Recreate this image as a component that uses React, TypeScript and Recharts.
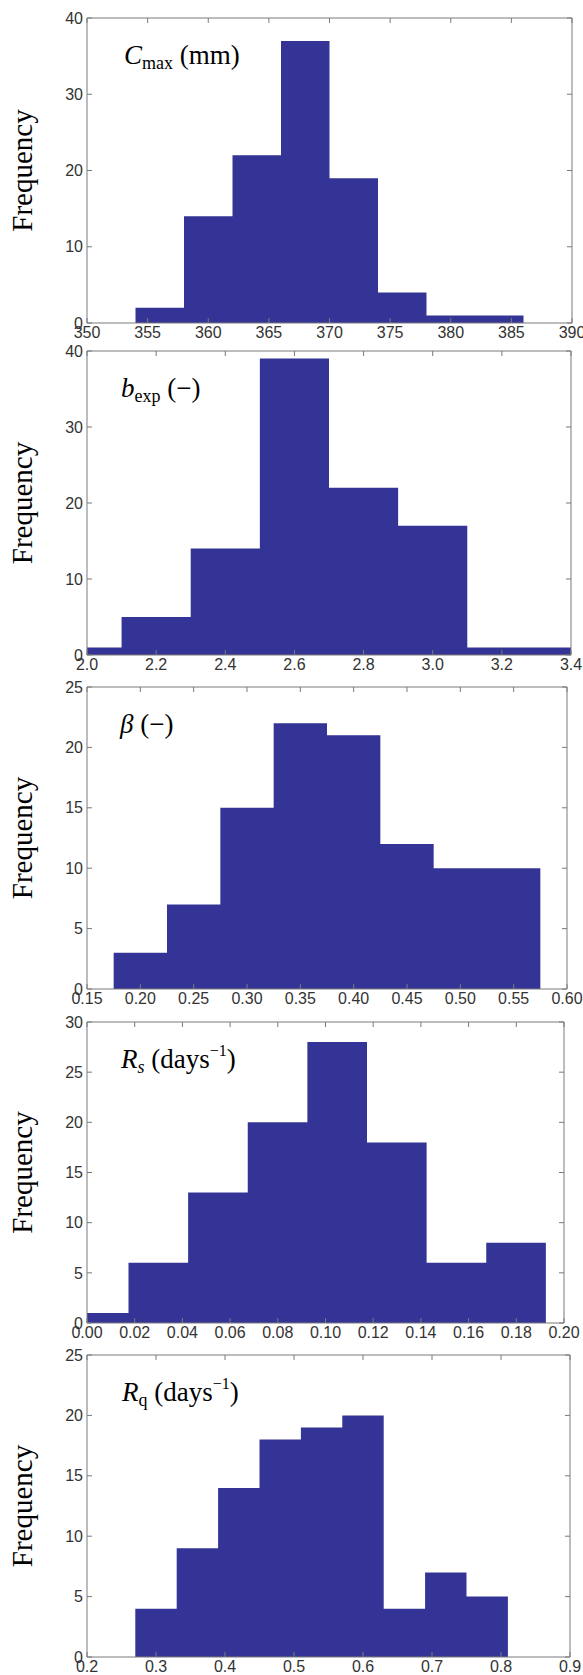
import React from "react";
import { ComposedChart, Area, XAxis, YAxis } from "recharts";

// bin edges (clipped to the axis range) and counts
const cmaxEdges = [354, 358, 362, 366, 370, 374, 378, 382, 386];
const cmaxCounts = [2, 14, 22, 37, 19, 4, 1, 1];
const cmaxTicks = [350, 355, 360, 365, 370, 375, 380, 385, 390];
const cmaxFreqTicks = [0, 10, 20, 30, 40];

const bexpEdges = [2.0, 2.1, 2.3, 2.5, 2.7, 2.9, 3.1, 3.4];
const bexpCounts = [1, 5, 14, 39, 22, 17, 1];
const bexpTicks = [2.0, 2.2, 2.4, 2.6, 2.8, 3.0, 3.2, 3.4];
const bexpFreqTicks = [0, 10, 20, 30, 40];

const betaEdges = [0.175, 0.225, 0.275, 0.325, 0.375, 0.425, 0.475, 0.525, 0.575];
const betaCounts = [3, 7, 15, 22, 21, 12, 10, 10];
const betaTicks = [0.15, 0.2, 0.25, 0.3, 0.35, 0.4, 0.45, 0.5, 0.55, 0.6];
const betaFreqTicks = [0, 5, 10, 15, 20, 25];

const rsEdges = [0, 0.0174, 0.0424, 0.0674, 0.0924, 0.1174, 0.1424, 0.1674, 0.1924];
const rsCounts = [1, 6, 13, 20, 28, 18, 6, 8];
const rsTicks = [0, 0.02, 0.04, 0.06, 0.08, 0.1, 0.12, 0.14, 0.16, 0.18, 0.2];
const rsFreqTicks = [0, 5, 10, 15, 20, 25, 30];

const rqEdges = [0.27, 0.33, 0.39, 0.45, 0.51, 0.57, 0.63, 0.69, 0.75, 0.81];
const rqCounts = [4, 9, 14, 18, 19, 20, 4, 7, 5];
const rqTicks = [0.2, 0.3, 0.4, 0.5, 0.6, 0.7, 0.8, 0.9];
const rqFreqTicks = [0, 5, 10, 15, 20, 25];

const W = 583;
const H = 1675;
const PLOT_LEFT = 87;
const FILL = "#343496";
const AXIS = "#7a7a7a";
const TICK_TEXT = "#333";
const SANS = "'Liberation Sans', Arial, sans-serif";
const SERIF = "'Liberation Serif', 'Times New Roman', serif";

const SUB = 18;

const panels = [
  {
    edges: cmaxEdges, counts: cmaxCounts, xTicks: cmaxTicks, yTicks: cmaxFreqTicks, dec: 0,
    top: 18, bottom: 323, right: 572, lx: 124,
    label: (
      <>
        <tspan fontStyle="italic">C</tspan>
        <tspan fontSize={SUB} dy={5}>max</tspan>
        <tspan dy={-5}> (mm)</tspan>
      </>
    ),
  },
  {
    edges: bexpEdges, counts: bexpCounts, xTicks: bexpTicks, yTicks: bexpFreqTicks, dec: 1,
    top: 351, bottom: 655, right: 571, lx: 121,
    label: (
      <>
        <tspan fontStyle="italic">b</tspan>
        <tspan fontSize={SUB} dy={5}>exp</tspan>
        <tspan dy={-5}> (−)</tspan>
      </>
    ),
  },
  {
    edges: betaEdges, counts: betaCounts, xTicks: betaTicks, yTicks: betaFreqTicks, dec: 2,
    top: 687, bottom: 989, right: 567, lx: 120,
    label: (
      <>
        <tspan fontStyle="italic">β</tspan>
        <tspan> (−)</tspan>
      </>
    ),
  },
  {
    edges: rsEdges, counts: rsCounts, xTicks: rsTicks, yTicks: rsFreqTicks, dec: 2,
    top: 1022, bottom: 1323, right: 564, lx: 121,
    label: (
      <>
        <tspan fontStyle="italic">R</tspan>
        <tspan fontSize={SUB} fontStyle="italic" dy={5}>s</tspan>
        <tspan dy={-5}> (days</tspan>
        <tspan fontSize={16} dy={-12}>−1</tspan>
        <tspan dy={12}>)</tspan>
      </>
    ),
  },
  {
    edges: rqEdges, counts: rqCounts, xTicks: rqTicks, yTicks: rqFreqTicks, dec: 1,
    top: 1355, bottom: 1657, right: 570, lx: 122,
    label: (
      <>
        <tspan fontStyle="italic">R</tspan>
        <tspan fontSize={SUB} dy={5}>q</tspan>
        <tspan dy={-5}> (days</tspan>
        <tspan fontSize={16} dy={-12}>−1</tspan>
        <tspan dy={12}>)</tspan>
      </>
    ),
  },
];

type HistProps = {
  edges: number[];
  counts: number[];
  xTicks: number[];
  yTicks: number[];
  dec: number;
  top: number;
  bottom: number;
  right: number;
};

function Hist({ edges, counts, xTicks, yTicks, dec, top, bottom, right }: HistProps) {
  const pad = 9;
  const xAxisH = 26;
  const h = bottom - top + pad + xAxisH;
  // stepAfter: each edge carries the count of the bin that starts there
  const data = edges.map((x, i) => ({ x, n: counts[Math.min(i, counts.length - 1)] }));
  const xDomain = [xTicks[0], xTicks[xTicks.length - 1]];
  const yDomain = [yTicks[0], yTicks[yTicks.length - 1]];
  const tickStyle = { fill: TICK_TEXT, fontSize: 16, fontFamily: SANS };

  return (
    <div style={{ position: "absolute", left: 0, top: top - pad }}>
      <ComposedChart
        width={W}
        height={h}
        data={data}
        margin={{ top: pad - 1, right: W - right - 1, bottom: 0, left: 0 }}
      >
        <XAxis
          xAxisId="b"
          dataKey="x"
          type="number"
          domain={xDomain}
          ticks={xTicks}
          interval={0}
          allowDataOverflow
          tickFormatter={(v: number) => v.toFixed(dec)}
          tick={tickStyle}
          tickSize={-5}
          tickMargin={9}
          height={xAxisH}
          axisLine={{ stroke: AXIS }}
          tickLine={{ stroke: AXIS }}
        />
        <XAxis
          xAxisId="t"
          orientation="top"
          dataKey="x"
          type="number"
          domain={xDomain}
          ticks={xTicks}
          interval={0}
          allowDataOverflow
          tickFormatter={() => ""}
          tickSize={-5}
          height={1}
          axisLine={{ stroke: AXIS }}
          tickLine={{ stroke: AXIS }}
        />
        <YAxis
          yAxisId="l"
          type="number"
          domain={yDomain}
          ticks={yTicks}
          interval={0}
          allowDataOverflow
          tick={tickStyle}
          tickSize={-5}
          tickMargin={9}
          width={PLOT_LEFT}
          axisLine={{ stroke: AXIS }}
          tickLine={{ stroke: AXIS }}
        />
        <YAxis
          yAxisId="r"
          orientation="right"
          type="number"
          domain={yDomain}
          ticks={yTicks}
          interval={0}
          allowDataOverflow
          tickFormatter={() => ""}
          tickSize={-5}
          width={1}
          axisLine={{ stroke: AXIS }}
          tickLine={{ stroke: AXIS }}
        />
        <Area
          xAxisId="b"
          yAxisId="l"
          type="stepAfter"
          dataKey="n"
          fill={FILL}
          fillOpacity={1}
          stroke="none"
          dot={false}
          activeDot={false}
          isAnimationActive={false}
        />
        <Area
          xAxisId="t"
          yAxisId="r"
          type="stepAfter"
          dataKey="n"
          fill="none"
          stroke="none"
          dot={false}
          activeDot={false}
          isAnimationActive={false}
        />
      </ComposedChart>
    </div>
  );
}

export default function App() {
  return (
    <div
      style={{
        position: "absolute",
        left: 0,
        top: 0,
        width: W,
        height: H,
        overflow: "hidden",
        background: "#fff",
      }}
    >
      {panels.map((p, i) => (
        <Hist key={i} {...p} />
      ))}
      <svg
        width={W}
        height={H}
        style={{ position: "absolute", left: 0, top: 0, pointerEvents: "none" }}
      >
        {panels.map((p, i) => (
          <g key={i} fontFamily={SERIF} fill="#000">
            <text x={p.lx} y={p.top + 46} fontSize={27}>
              {p.label}
            </text>
            <text
              transform={`translate(32, ${(p.top + p.bottom) / 2}) rotate(-90)`}
              textAnchor="middle"
              fontSize={29}
            >
              Frequency
            </text>
          </g>
        ))}
      </svg>
    </div>
  );
}
